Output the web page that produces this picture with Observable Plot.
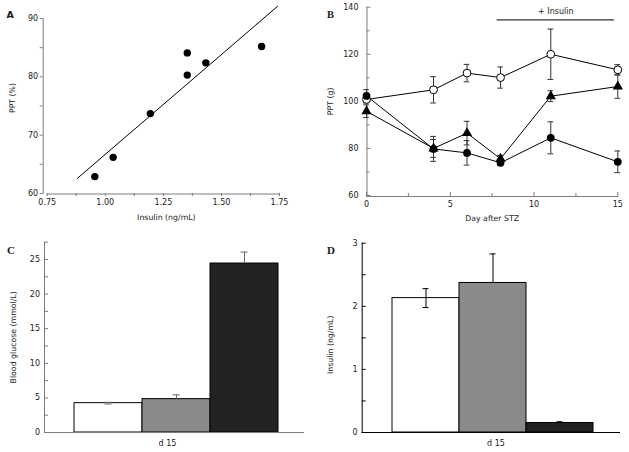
<!DOCTYPE html>
<html><head><meta charset="utf-8">
<script src="https://cdn.jsdelivr.net/npm/d3@7"></script>
<script src="https://cdn.jsdelivr.net/npm/@observablehq/plot@0.6"></script>
<style>
body{margin:0;background:#fff;}
#fig{position:relative;width:629px;height:452px;overflow:hidden;background:#fff;}
#fig svg{position:absolute;}
</style></head><body>
<div id="fig"></div>
<script>
// ---------- Panel A data ----------
const insulinA = [0.955, 1.034, 1.194, 1.353, 1.353, 1.433, 1.673];
const pptA = [62.9, 66.2, 73.7, 84.1, 80.3, 82.4, 85.2];
const fitInsulin = [0.88, 1.742];
const fitPPT = [62.6, 92.1];
const xTicksA = [0.75, 1.00, 1.25, 1.50, 1.75];
const xMinorA = [0.875, 1.125, 1.375, 1.625];
const yTicksA = [60, 70, 80, 90];
const yMinorA = [65, 75, 85];

// ---------- Panel B data ----------
const days = [0, 4, 6, 8, 11, 15];
const control = [100.8, 104.9, 112.0, 110.1, 120.0, 113.4];
const controlErr = [1.5, 5.6, 3.7, 4.5, 10.7, 2.2];
const stzIns = [95.8, 80.0, 86.5, 75.6, 102.2, 106.3];
const stzInsErr = [2.7, 3.8, 5.0, 1.5, 2.3, 5.0];
const stz = [102.3, 79.8, 78.1, 73.9, 84.5, 74.3];
const stzErr = [2.7, 5.3, 5.2, 1.0, 6.8, 4.6];
const xTicksB = [0, 5, 10, 15];
const xMinorB = [2.5, 7.5, 12.5];
const yTicksB = [60, 80, 100, 120, 140];
const yMinorB = [70, 90, 110, 130];
const insulinPeriod = [7.8, 14.8];
const insulinLevel = [134.6];
const insulinText = "+ Insulin";

// ---------- Panels C, D data ----------
const groups = ["Control", "STZ + insulin", "STZ"];
const glucose = [4.24, 4.82, 24.42];
const glucoseErr = [0.12, 0.62, 1.65];
const insulinD = [2.13, 2.37, 0.15];
const insulinDErr = [0.15, 0.46, 0.02];
const twoSided = [true, false, false];
const yTicksC = [0, 5, 10, 15, 20, 25];
const yMinorC = [2.5, 7.5, 12.5, 17.5, 22.5, 27.5];
const yTicksD = [0, 1, 2, 3];
const yMinorD = [0.5, 1.5, 2.5];
const dayLabel = "d 15";

// ---------- styles ----------
const barFills = ["#ffffff", "#8a8a8a", "#232323"];
const gray = "#7d7d7d";
const ink = "#1a1a1a";
const font = "DejaVu Sans, Verdana, sans-serif";
const baseStyle = {fontFamily: font, fontSize: "8px", color: ink, background: "transparent", overflow: "visible"};
const labelSize = 7.8;

const fig = document.getElementById("fig");
function place(svg, left, top) { svg.style.left = left + "px"; svg.style.top = top + "px"; fig.appendChild(svg); return svg; }

// ---------- Panel A ----------
const ptsA = insulinA.map((x, i) => ({x, y: pptA[i]}));
const fitA = fitInsulin.map((x, i) => ({x, y: fitPPT[i]}));
place(Plot.plot({
  width: 310, height: 226,
  marginLeft: 46.7, marginRight: 31, marginTop: 18, marginBottom: 33,
  style: baseStyle,
  x: {domain: [xTicksA[0], xTicksA[xTicksA.length - 1]]},
  y: {domain: [yTicksA[0], yTicksA[yTicksA.length - 1]]},
  marks: [
    Plot.frame({anchor: "left", stroke: gray, dx: -4}),
    Plot.frame({anchor: "bottom", stroke: gray, dy: 0.5}),
    Plot.axisY({ticks: yTicksA, tickSize: 3, tickPadding: 2, dx: -4, stroke: gray, fill: ink, label: null}),
    Plot.axisY({ticks: yMinorA, tickSize: 3, dx: -4, stroke: gray, tickFormat: () => "", label: null}),
    Plot.axisX({ticks: xTicksA, tickSize: 3, tickPadding: 3, stroke: gray, fill: ink, tickFormat: d3.format(".2f"), label: null}),
    Plot.axisX({ticks: xMinorA, tickSize: 3, stroke: gray, tickFormat: () => "", label: null}),
    Plot.text(["PPT (%)"], {text: d => d, frameAnchor: "left", textAnchor: "middle", rotate: -90, dx: -34.5, dy: -8, lineAnchor: "middle", fontSize: labelSize, fill: ink}),
    Plot.text(["Insulin (ng/mL)"], {text: d => d, frameAnchor: "bottom", textAnchor: "middle", dx: 3, dy: 24, lineAnchor: "middle", fontSize: labelSize, fill: ink}),
    Plot.line(fitA, {x: "x", y: "y", stroke: "black", strokeWidth: 1}),
    Plot.dot(ptsA, {x: "x", y: "y", r: 3.7, fill: "black"})
  ]
}), 0, 0);

// ---------- Panel B ----------
const seriesB = [
  {name: "Control", values: control, err: controlErr},
  {name: "STZ + insulin", values: stzIns, err: stzInsErr},
  {name: "STZ", values: stz, err: stzErr}
];
const rowsB = seriesB.flatMap(s => days.map((day, i) => ({series: s.name, day, v: s.values[i], e: s.err[i]})));
const rowsOf = name => rowsB.filter(d => d.series === name);
const capHalf = 0.17;
const errMarks = [];
for (const s of seriesB) {
  const r = rowsOf(s.name);
  errMarks.push(
    Plot.ruleX(r, {x: "day", y1: d => d.v - d.e, y2: d => d.v + d.e, stroke: "#333", strokeWidth: 1}),
    Plot.ruleY(r, {x1: d => d.day - capHalf, x2: d => d.day + capHalf, y: d => d.v + d.e, stroke: "#333", strokeWidth: 1}),
    Plot.ruleY(r, {x1: d => d.day - capHalf, x2: d => d.day + capHalf, y: d => d.v - d.e, stroke: "#333", strokeWidth: 1})
  );
}
place(Plot.plot({
  width: 319, height: 226,
  marginLeft: 56, marginRight: 11.7, marginTop: 6.7, marginBottom: 31,
  style: baseStyle,
  x: {domain: [xTicksB[0], xTicksB[xTicksB.length - 1]]},
  y: {domain: [yTicksB[0], yTicksB[yTicksB.length - 1]]},
  marks: [
    Plot.frame({anchor: "left", stroke: gray, dx: 0.5}),
    Plot.frame({anchor: "bottom", stroke: gray, dy: 1}),
    Plot.axisY({ticks: yTicksB, tickSize: -4, dx: 0.5, stroke: gray, tickFormat: () => "", label: null}),
    Plot.axisY({ticks: yMinorB, tickSize: -3, dx: 0.5, stroke: gray, tickFormat: () => "", label: null}),
    Plot.axisY({ticks: yTicksB, tickSize: 0, tickPadding: 8, fill: ink, label: null}),
    Plot.axisX({ticks: xTicksB, tickSize: -4, dy: 1, stroke: gray, tickFormat: () => "", label: null}),
    Plot.axisX({ticks: xMinorB, tickSize: -3, dy: 1, stroke: gray, tickFormat: () => "", label: null}),
    Plot.axisX({ticks: xTicksB, tickSize: 0, tickPadding: 6, fill: ink, label: null}),
    Plot.text(["PPT (g)"], {text: d => d, frameAnchor: "left", textAnchor: "middle", rotate: -90, dx: -36, lineAnchor: "middle", fontSize: labelSize, fill: ink}),
    Plot.text(["Day after STZ"], {text: d => d, frameAnchor: "bottom", textAnchor: "middle", dy: 23, lineAnchor: "middle", fontSize: labelSize, fill: ink}),
    Plot.ruleY(insulinLevel, {x1: insulinPeriod[0], x2: insulinPeriod[1], stroke: "black", strokeWidth: 1}),
    Plot.text([insulinText], {text: d => d, x: d3.mean(insulinPeriod), y: insulinLevel[0], dy: -8.6, lineAnchor: "middle", fontSize: 8, fill: ink}),
    ...seriesB.map(s => Plot.line(rowsOf(s.name), {x: "day", y: "v", stroke: "black", strokeWidth: 1})),
    ...errMarks,
    Plot.dot(rowsOf("Control"), {x: "day", y: "v", r: 3.9, fill: "white", stroke: "black", strokeWidth: 1}),
    Plot.dot(rowsOf("STZ + insulin"), {x: "day", y: "v", r: 3.8, symbol: "triangle", fill: "black"}),
    Plot.dot(rowsOf("STZ"), {x: "day", y: "v", r: 3.9, fill: "black"})
  ]
}), 310, 0);

// ---------- bar panel helper ----------
function barPanel({values, errs, yTicks, yMinor, label, axisColor, errColor, marginLeft, marginRight, marginTop, labelDx, labelDy, tickDx, align, po}) {
  const rows = groups.map((g, i) => ({g, v: values[i], e: errs[i], both: twoSided[i], i}));
  return Plot.plot({
    width: 310, height: 226,
    marginLeft, marginRight, marginTop, marginBottom: 20,
    style: baseStyle,
    color: {type: "identity"},
    x: {domain: groups, paddingInner: 0, paddingOuter: po, align, axis: null},
    y: {domain: [0, d3.max([...yTicks, ...yMinor])]},
    marks: [
      Plot.barY(rows, {x: "g", y: "v", fill: d => barFills[d.i], stroke: "black", strokeWidth: 1}),
      Plot.ruleX(rows, {x: "g", y1: d => d.both ? d.v - d.e : d.v, y2: d => d.v + d.e, stroke: errColor, strokeWidth: 1}),
      Plot.tickY(rows, {x: "g", y: d => d.v + d.e, stroke: errColor, insetLeft: 30.5, insetRight: 30.5}),
      Plot.tickY(rows.filter(d => d.both), {x: "g", y: d => d.v - d.e, stroke: errColor, insetLeft: 30.5, insetRight: 30.5}),
      Plot.frame({anchor: "left", stroke: axisColor}),
      Plot.frame({anchor: "bottom", stroke: axisColor}),
      Plot.axisY({ticks: yTicks, tickSize: -4, stroke: axisColor, tickFormat: () => "", label: null}),
      Plot.axisY({ticks: yMinor, tickSize: -4, stroke: axisColor, tickFormat: () => "", label: null}),
      Plot.axisY({ticks: yTicks, tickSize: 0, tickPadding: 4.5, fill: ink, tickFormat: d => String(d), label: null}),
      Plot.text([groups[1]], {x: d => d, text: () => dayLabel, frameAnchor: "bottom", dy: 10.5, dx: tickDx, lineAnchor: "middle", fontSize: 8, fill: ink}),
      Plot.text([label], {text: d => d, frameAnchor: "left", textAnchor: "middle", rotate: -90, dx: labelDx, dy: labelDy, lineAnchor: "middle", fontSize: labelSize, fill: ink})
    ]
  });
}

place(barPanel({values: glucose, errs: glucoseErr, yTicks: yTicksC, yMinor: yMinorC, label: "Blood glucose (mmol/L)",
  axisColor: gray, errColor: "#6a6a6a", marginLeft: 44, marginRight: 7, marginTop: 15.7, labelDx: -31.5, labelDy: 0, tickDx: -9, align: 0.54, po: 0.4}), 0, 226);

place(barPanel({values: insulinD, errs: insulinDErr, yTicks: yTicksD, yMinor: yMinorD, label: "Insulin (ng/mL)",
  axisColor: "black", errColor: "black", marginLeft: 51.7, marginRight: 1, marginTop: 16.7, labelDx: -31.7, labelDy: 7, tickDx: 3, align: 0.54, po: 0.41}), 310, 226);

// ---------- panel letters ----------
const NS = "http://www.w3.org/2000/svg";
const over = document.createElementNS(NS, "svg");
over.setAttribute("width", 629); over.setAttribute("height", 452);
over.style.left = "0px"; over.style.top = "0px";
const letters = [
  {t: "A", x: 6.5, y: 18, f: "DejaVu Sans, sans-serif", s: 9.5},
  {t: "B", x: 327, y: 18.3, f: "Liberation Serif, Times New Roman, serif", s: 10.5},
  {t: "C", x: 7, y: 253.5, f: "Liberation Serif, Times New Roman, serif", s: 11},
  {t: "D", x: 327, y: 254, f: "Liberation Serif, Times New Roman, serif", s: 11}
];
for (const L of letters) {
  const el = document.createElementNS(NS, "text");
  el.setAttribute("x", L.x); el.setAttribute("y", L.y);
  el.setAttribute("font-family", L.f); el.setAttribute("font-size", L.s);
  el.setAttribute("font-weight", "bold"); el.setAttribute("fill", ink);
  el.textContent = L.t;
  over.appendChild(el);
}
fig.appendChild(over);
</script>
</body></html>
